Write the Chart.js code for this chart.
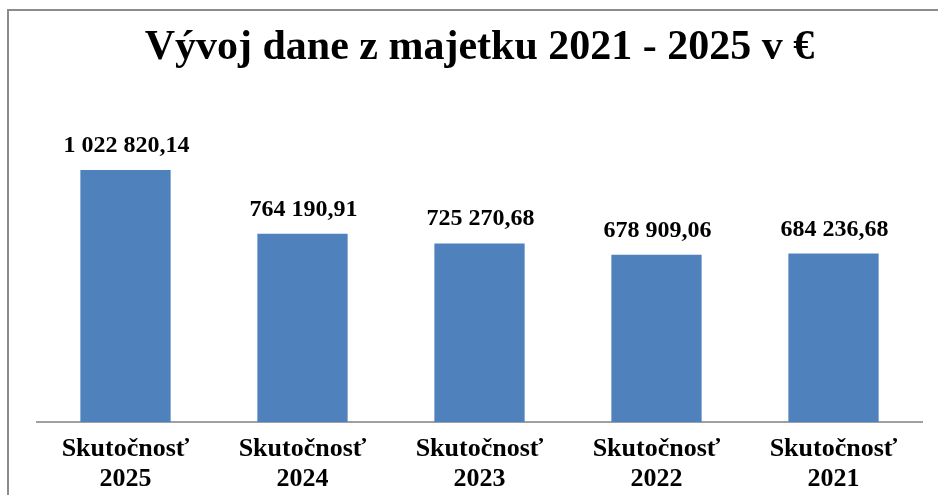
<!DOCTYPE html>
<html lang="sk">
<head>
<meta charset="UTF-8">
<title>Vývoj dane z majetku</title>
<script src="https://cdn.jsdelivr.net/npm/chart.js"></script>
<style>
  html, body { margin: 0; padding: 0; background: #fff; overflow: hidden; }
  #wrap { width: 938px; height: 495px; position: relative; }
</style>
</head>
<body>
<div id="wrap"><canvas id="graf" width="938" height="495"></canvas></div>
<script>
  // data
  const roky = ['2025', '2024', '2023', '2022', '2021'];
  const hodnoty = [1022820.14, 764190.91, 725270.68, 678909.06, 684236.68];
  const yMax = 1200000;

  const stitky = roky.map(r => ['Skutočnosť', r]);

  // 1 022 820,14
  function formatSk(v) {
    const parts = v.toFixed(2).split('.');
    const cele = parts[0].replace(/\B(?=(\d{3})+(?!\d))/g, ' ');
    return cele + ',' + parts[1];
  }

  // ramcek okolo grafu
  const ramcek = {
    id: 'ramcek',
    beforeDraw(chart) {
      const ctx = chart.ctx;
      ctx.save();
      ctx.fillStyle = '#fff';
      ctx.fillRect(0, 0, chart.width, chart.height);
      ctx.strokeStyle = '#8c8c8c';
      ctx.lineWidth = 2;
      ctx.strokeRect(8, 10, 1000, 1000);
      ctx.restore();
    }
  };

  // hodnoty nad stlpcami
  const hodnotyNad = {
    id: 'hodnotyNad',
    afterDatasetsDraw(chart) {
      const ctx = chart.ctx;
      const meta = chart.getDatasetMeta(0);
      ctx.save();
      ctx.font = 'bold 24px "Liberation Serif", "Times New Roman", serif';
      ctx.fillStyle = '#000';
      ctx.textAlign = 'center';
      ctx.textBaseline = 'alphabetic';
      meta.data.forEach((bar, i) => {
        ctx.fillText(formatSk(hodnoty[i]), bar.x + 1, bar.y - 18);
      });
      ctx.restore();
    }
  };

  new Chart(document.getElementById('graf'), {
    type: 'bar',
    data: {
      labels: stitky,
      datasets: [{
        data: hodnoty,
        backgroundColor: '#4f81bd',
        borderWidth: 0,
        barPercentage: 0.51,
        categoryPercentage: 1
      }]
    },
    options: {
      responsive: false,
      animation: false,
      layout: { padding: { left: 37, right: 16, top: 10, bottom: -11 } },
      plugins: {
        legend: { display: false },
        tooltip: { enabled: false },
        title: {
          display: true,
          text: 'Vývoj dane z majetku 2021 - 2025 v €',
          color: '#000',
          font: { family: '"Liberation Serif", "Times New Roman", serif', size: 42, weight: 'bold', lineHeight: 1.2 },
          padding: { top: 13, bottom: 53 }
        }
      },
      scales: {
        y: {
          display: false,
          min: 0,
          max: yMax
        },
        x: {
          grid: { display: false, drawTicks: false },
          border: { display: true, color: '#a0a0a0', width: 2 },
          ticks: {
            color: '#000',
            padding: 12,
            maxRotation: 0,
            font: { family: '"Liberation Serif", "Times New Roman", serif', size: 26, weight: 'bold', lineHeight: 1.15 }
          }
        }
      }
    },
    plugins: [ramcek, hodnotyNad]
  });
</script>
</body>
</html>
